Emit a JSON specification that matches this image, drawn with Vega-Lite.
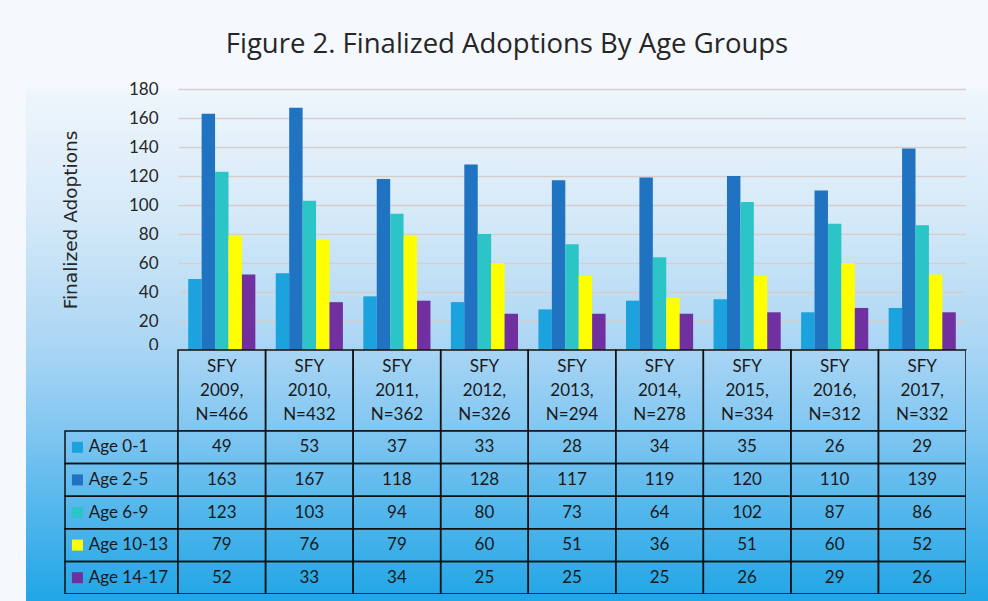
{
  "$schema": "https://vega.github.io/schema/vega-lite/v6.json",
  "background": "#f5f9fd",
  "padding": {"left": 26, "top": 30, "right": 0, "bottom": 0},
  "title": {"text": "Figure 2. Finalized Adoptions By Age Groups", "fontSize": 27.5, "fontWeight": "normal", "color": "#262626", "offset": 22, "anchor": "middle", "font": "Open Sans"},
  "config": {"font": "Lato", "view": {"stroke": null}},
  "datasets": {
    "table": [
      {"period": "SFY 2009, N=466", "age": "Age 0-1", "value": 49},
      {"period": "SFY 2009, N=466", "age": "Age 2-5", "value": 163},
      {"period": "SFY 2009, N=466", "age": "Age 6-9", "value": 123},
      {"period": "SFY 2009, N=466", "age": "Age 10-13", "value": 79},
      {"period": "SFY 2009, N=466", "age": "Age 14-17", "value": 52},
      {"period": "SFY 2010, N=432", "age": "Age 0-1", "value": 53},
      {"period": "SFY 2010, N=432", "age": "Age 2-5", "value": 167},
      {"period": "SFY 2010, N=432", "age": "Age 6-9", "value": 103},
      {"period": "SFY 2010, N=432", "age": "Age 10-13", "value": 76},
      {"period": "SFY 2010, N=432", "age": "Age 14-17", "value": 33},
      {"period": "SFY 2011, N=362", "age": "Age 0-1", "value": 37},
      {"period": "SFY 2011, N=362", "age": "Age 2-5", "value": 118},
      {"period": "SFY 2011, N=362", "age": "Age 6-9", "value": 94},
      {"period": "SFY 2011, N=362", "age": "Age 10-13", "value": 79},
      {"period": "SFY 2011, N=362", "age": "Age 14-17", "value": 34},
      {"period": "SFY 2012, N=326", "age": "Age 0-1", "value": 33},
      {"period": "SFY 2012, N=326", "age": "Age 2-5", "value": 128},
      {"period": "SFY 2012, N=326", "age": "Age 6-9", "value": 80},
      {"period": "SFY 2012, N=326", "age": "Age 10-13", "value": 60},
      {"period": "SFY 2012, N=326", "age": "Age 14-17", "value": 25},
      {"period": "SFY 2013, N=294", "age": "Age 0-1", "value": 28},
      {"period": "SFY 2013, N=294", "age": "Age 2-5", "value": 117},
      {"period": "SFY 2013, N=294", "age": "Age 6-9", "value": 73},
      {"period": "SFY 2013, N=294", "age": "Age 10-13", "value": 51},
      {"period": "SFY 2013, N=294", "age": "Age 14-17", "value": 25},
      {"period": "SFY 2014, N=278", "age": "Age 0-1", "value": 34},
      {"period": "SFY 2014, N=278", "age": "Age 2-5", "value": 119},
      {"period": "SFY 2014, N=278", "age": "Age 6-9", "value": 64},
      {"period": "SFY 2014, N=278", "age": "Age 10-13", "value": 36},
      {"period": "SFY 2014, N=278", "age": "Age 14-17", "value": 25},
      {"period": "SFY 2015, N=334", "age": "Age 0-1", "value": 35},
      {"period": "SFY 2015, N=334", "age": "Age 2-5", "value": 120},
      {"period": "SFY 2015, N=334", "age": "Age 6-9", "value": 102},
      {"period": "SFY 2015, N=334", "age": "Age 10-13", "value": 51},
      {"period": "SFY 2015, N=334", "age": "Age 14-17", "value": 26},
      {"period": "SFY 2016, N=312", "age": "Age 0-1", "value": 26},
      {"period": "SFY 2016, N=312", "age": "Age 2-5", "value": 110},
      {"period": "SFY 2016, N=312", "age": "Age 6-9", "value": 87},
      {"period": "SFY 2016, N=312", "age": "Age 10-13", "value": 60},
      {"period": "SFY 2016, N=312", "age": "Age 14-17", "value": 29},
      {"period": "SFY 2017, N=332", "age": "Age 0-1", "value": 29},
      {"period": "SFY 2017, N=332", "age": "Age 2-5", "value": 139},
      {"period": "SFY 2017, N=332", "age": "Age 6-9", "value": 86},
      {"period": "SFY 2017, N=332", "age": "Age 10-13", "value": 52},
      {"period": "SFY 2017, N=332", "age": "Age 14-17", "value": 26}
    ]
  },
  "columns": 4,
  "spacing": 0,
  "bounds": "flush",
  "align": "each",
  "concat": [
    {"width": 39, "height": 261, "data": {"values": []}, "mark": "point", "view": {"stroke": null, "fill": {"gradient": "linear", "x1": 0, "y1": 0, "x2": 0, "y2": 1, "stops": [{"offset": 0, "color": "#eff6fc"}, {"offset": 0.5, "color": "#d4e9f8"}, {"offset": 1, "color": "#a9d5f4"}]}}},
    {"width": 113, "height": 261, "data": {"values": []}, "mark": "point", "view": {"stroke": null, "fill": {"gradient": "linear", "x1": 0, "y1": 0, "x2": 0, "y2": 1, "stops": [{"offset": 0, "color": "#eff6fc"}, {"offset": 0.5, "color": "#d4e9f8"}, {"offset": 1, "color": "#a9d5f4"}]}}},
    {
      "width": 788, "height": 261,
      "data": {"name": "table"},
      "view": {"stroke": null, "fill": {"gradient": "linear", "x1": 0, "y1": 0, "x2": 0, "y2": 1, "stops": [{"offset": 0, "color": "#eff6fc"}, {"offset": 0.5, "color": "#d4e9f8"}, {"offset": 1, "color": "#a9d5f4"}]}},
      "mark": {"type": "bar", "opacity": 1},
      "encoding": {
        "x": {"field": "period", "type": "nominal", "axis": null, "scale": {"paddingInner": 0, "paddingOuter": 0}},
        "xOffset": {"field": "age", "type": "nominal", "scale": {"domain": ["Age 0-1", "Age 2-5", "Age 6-9", "Age 10-13", "Age 14-17"], "paddingInner": 0, "paddingOuter": 0.76}},
        "y": {"field": "value", "type": "quantitative", "scale": {"domain": [0, 180], "nice": false},
          "axis": {"values": [0, 20, 40, 60, 80, 100, 120, 140, 160, 180], "title": "Finalized Adoptions", "grid": true, "gridColor": "#d8cdcd", "gridWidth": 1.5, "domain": false, "ticks": false, "labelPadding": 20, "labelFontSize": 17, "labelColor": "#262626", "labelFont": "Lato",
            "labelOffset": {"condition": {"test": "datum.value === 0", "value": -5}, "value": 0},
            "titleFont": "DejaVu Sans", "titleFontSize": 18.5, "titleFontWeight": "normal", "titleColor": "#262626", "titlePadding": 48}},
        "color": {"field": "age", "type": "nominal", "scale": {"domain": ["Age 0-1", "Age 2-5", "Age 6-9", "Age 10-13", "Age 14-17"], "range": ["#1ca2dd", "#1f73c0", "#2cc5c7", "#ffff00", "#7030a0"]}, "legend": null}
      }
    },
    {"width": 22, "height": 261, "data": {"values": []}, "mark": "point", "view": {"stroke": null, "fill": {"gradient": "linear", "x1": 0, "y1": 0, "x2": 0, "y2": 1, "stops": [{"offset": 0, "color": "#eff6fc"}, {"offset": 0.5, "color": "#d4e9f8"}, {"offset": 1, "color": "#a9d5f4"}]}}},

    {"width": 39, "height": 81, "data": {"values": []}, "mark": "point", "view": {"stroke": null, "fill": {"gradient": "linear", "x1": 0, "y1": 0, "x2": 0, "y2": 1, "stops": [{"offset": 0, "color": "#a9d5f4"}, {"offset": 1, "color": "#80c6f1"}]}}},
    {"width": 113, "height": 81, "data": {"values": []}, "mark": "point", "view": {"stroke": null, "fill": {"gradient": "linear", "x1": 0, "y1": 0, "x2": 0, "y2": 1, "stops": [{"offset": 0, "color": "#a9d5f4"}, {"offset": 1, "color": "#80c6f1"}]}}},
    {
      "width": 788, "height": 81,
      "data": {"name": "table"},
      "transform": [{"filter": "datum.age === 'Age 0-1'"}],
      "view": {"stroke": null, "fill": {"gradient": "linear", "x1": 0, "y1": 0, "x2": 0, "y2": 1, "stops": [{"offset": 0, "color": "#a9d5f4"}, {"offset": 1, "color": "#80c6f1"}]}},
      "encoding": {"x": {"field": "period", "type": "nominal", "axis": null, "scale": {"paddingInner": 0, "paddingOuter": 0}}},
      "layer": [
        {"mark": {"type": "rect", "fillOpacity": 0, "stroke": "#111111", "strokeWidth": 1.5}},
        {"mark": {"type": "text", "lineBreak": " ", "lineHeight": 24, "fontSize": 17, "dy": -24, "color": "#1a1a1a", "font": "Lato"}, "encoding": {"text": {"field": "period"}}}
      ]
    },
    {"width": 22, "height": 81, "data": {"values": []}, "mark": "point", "view": {"stroke": null, "fill": {"gradient": "linear", "x1": 0, "y1": 0, "x2": 0, "y2": 1, "stops": [{"offset": 0, "color": "#a9d5f4"}, {"offset": 1, "color": "#80c6f1"}]}}},

    {"width": 39, "height": 163, "data": {"values": []}, "mark": "point", "view": {"stroke": null, "fill": {"gradient": "linear", "x1": 0, "y1": 0, "x2": 0, "y2": 1, "stops": [{"offset": 0, "color": "#80c6f1"}, {"offset": 0.5, "color": "#52b6ec"}, {"offset": 1, "color": "#24a7e6"}]}}},
    {
      "width": 113, "height": 163,
      "data": {"name": "table"},
      "transform": [{"filter": "datum.period === 'SFY 2009, N=466'"}],
      "view": {"stroke": null, "fill": {"gradient": "linear", "x1": 0, "y1": 0, "x2": 0, "y2": 1, "stops": [{"offset": 0, "color": "#80c6f1"}, {"offset": 0.5, "color": "#52b6ec"}, {"offset": 1, "color": "#24a7e6"}]}},
      "encoding": {"y": {"field": "age", "type": "nominal", "axis": null, "scale": {"domain": ["Age 0-1", "Age 2-5", "Age 6-9", "Age 10-13", "Age 14-17"], "paddingInner": 0, "paddingOuter": 0}}},
      "layer": [
        {"mark": {"type": "rect", "fillOpacity": 0, "stroke": "#111111", "strokeWidth": 1.5}},
        {"mark": {"type": "point", "shape": "square", "filled": true, "opacity": 1, "size": 121},
          "encoding": {
            "x": {"datum": 0.11, "type": "quantitative", "scale": {"domain": [0, 1], "nice": false, "zero": false}, "axis": null},
            "color": {"field": "age", "type": "nominal", "scale": {"domain": ["Age 0-1", "Age 2-5", "Age 6-9", "Age 10-13", "Age 14-17"], "range": ["#1ca2dd", "#1f73c0", "#2cc5c7", "#ffff00", "#7030a0"]}, "legend": null}
          }},
        {"mark": {"type": "text", "align": "left", "fontSize": 17, "color": "#1a1a1a", "font": "Lato"},
          "encoding": {
            "x": {"datum": 0.21, "type": "quantitative", "scale": {"domain": [0, 1], "nice": false, "zero": false}, "axis": null},
            "text": {"field": "age"}
          }}
      ]
    },
    {
      "width": 788, "height": 163,
      "data": {"name": "table"},
      "view": {"stroke": null, "fill": {"gradient": "linear", "x1": 0, "y1": 0, "x2": 0, "y2": 1, "stops": [{"offset": 0, "color": "#80c6f1"}, {"offset": 0.5, "color": "#52b6ec"}, {"offset": 1, "color": "#24a7e6"}]}},
      "encoding": {
        "x": {"field": "period", "type": "nominal", "axis": null, "scale": {"paddingInner": 0, "paddingOuter": 0}},
        "y": {"field": "age", "type": "nominal", "axis": null, "scale": {"domain": ["Age 0-1", "Age 2-5", "Age 6-9", "Age 10-13", "Age 14-17"], "paddingInner": 0, "paddingOuter": 0}}
      },
      "layer": [
        {"mark": {"type": "rect", "fillOpacity": 0, "stroke": "#111111", "strokeWidth": 1.5}},
        {"mark": {"type": "text", "fontSize": 17, "color": "#1a1a1a", "font": "Lato"}, "encoding": {"text": {"field": "value", "type": "quantitative"}}}
      ]
    },
    {"width": 22, "height": 163, "data": {"values": []}, "mark": "point", "view": {"stroke": null, "fill": {"gradient": "linear", "x1": 0, "y1": 0, "x2": 0, "y2": 1, "stops": [{"offset": 0, "color": "#80c6f1"}, {"offset": 0.5, "color": "#52b6ec"}, {"offset": 1, "color": "#24a7e6"}]}}},

    {"width": 39, "height": 8, "data": {"values": []}, "mark": "point", "view": {"stroke": null, "fill": "#22a6e5"}},
    {"width": 113, "height": 8, "data": {"values": []}, "mark": "point", "view": {"stroke": null, "fill": "#22a6e5"}},
    {"width": 788, "height": 8, "data": {"values": []}, "mark": "point", "view": {"stroke": null, "fill": "#22a6e5"}},
    {"width": 22, "height": 8, "data": {"values": []}, "mark": "point", "view": {"stroke": null, "fill": "#22a6e5"}}
  ]
}
